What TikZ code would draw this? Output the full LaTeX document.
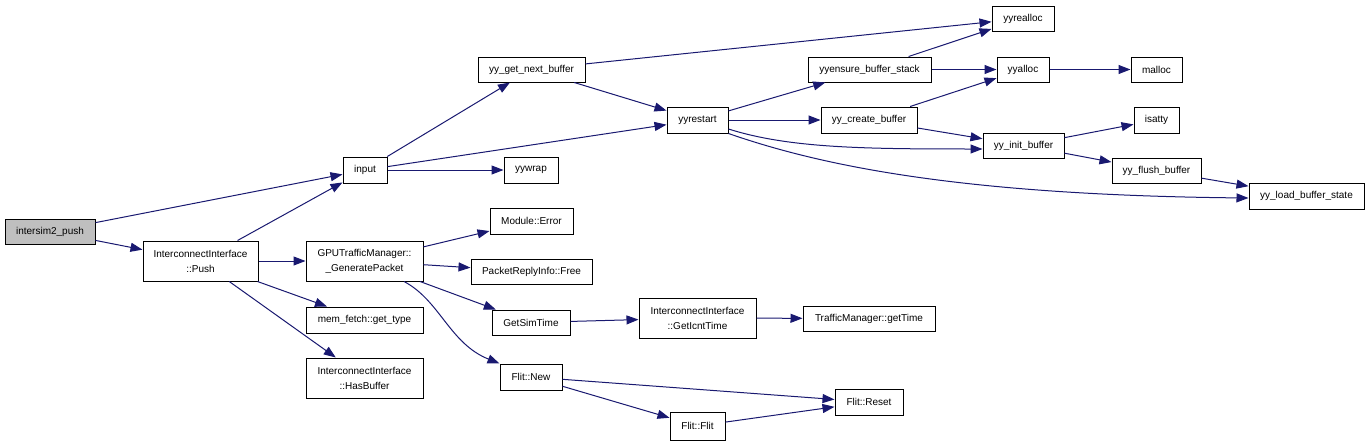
\documentclass[tikz,border=0pt]{standalone}
\usepackage{fontspec}
\setmainfont{Liberation Sans}
\usetikzlibrary{arrows.meta}
\definecolor{edgeblue}{HTML}{191970}
\definecolor{rootgray}{HTML}{BFBFBF}
\begin{document}
\begin{tikzpicture}[x=1pt,y=-1pt,
  fn/.style={draw=black,line width=1pt,fill=white,inner sep=0pt,minimum height=25pt,
    font=\fontsize{10}{15}\selectfont,align=center},
  fntwo/.style={fn,minimum height=40pt},
  call/.style={draw=edgeblue,line width=1pt,-{Triangle[length=12pt,width=9pt]}}]
\useasboundingbox (0,0) rectangle (1369,447);

% callers
\node[fn,fill=rootgray,minimum width=90pt] (root) at (50,231.5) {intersim2\_push};
\node[fntwo,minimum width=115pt] (push) at (200.5,261) {InterconnectInterface\\::Push};

% second column
\node[fn,minimum width=44pt,minimum height=26pt] (input) at (365,170) {input};
\node[fntwo,minimum width=117pt] (genpkt) at (364.5,261) {GPUTrafficManager::\\\_GeneratePacket};
\node[fn,minimum width=117pt,minimum height=26pt] (memtype) at (364.5,320) {mem\_fetch::get\_type};
\node[fntwo,minimum width=117pt] (hasbuf) at (364.5,378) {InterconnectInterface\\::HasBuffer};

% third column
\node[fn,minimum width=107pt] (nextbuf) at (531.5,69.5) {yy\_get\_next\_buffer};
\node[fn,minimum width=54pt,minimum height=26pt] (wrap) at (531,170) {yywrap};
\node[fn,minimum width=83pt,minimum height=26pt] (moderr) at (531.5,221) {Module::Error};
\node[fn,minimum width=121pt] (pktfree) at (531.5,271.5) {PacketReplyInfo::Free};
\node[fn,minimum width=78pt] (simtime) at (531,322.5) {GetSimTime};
\node[fn,minimum width=62pt,minimum height=26pt] (flitnew) at (531,377) {Flit::New};

% fourth column
\node[fn,minimum width=61pt,minimum height=26pt] (restart) at (697.5,120) {yyrestart};
\node[fntwo,minimum width=117pt] (icnttime) at (697.5,318) {InterconnectInterface\\::GetIcntTime};
\node[fn,minimum width=55pt,minimum height=28pt] (flitflit) at (697.5,426) {Flit::Flit};

% fifth column
\node[fn,minimum width=123pt] (ensure) at (869.5,69.5) {yyensure\_buffer\_stack};
\node[fn,minimum width=96pt,minimum height=26pt] (create) at (869,120) {yy\_create\_buffer};
\node[fn,minimum width=132pt] (gettime) at (869,318.5) {TrafficManager::getTime};
\node[fn,minimum width=68pt,minimum height=26pt] (flitreset) at (869,402) {Flit::Reset};

% sixth column
\node[fn,minimum width=62pt] (realloc) at (1023,18.5) {yyrealloc};
\node[fn,minimum width=52pt] (alloc) at (1023,69.5) {yyalloc};
\node[fn,minimum width=81pt] (initbuf) at (1023.5,145.5) {yy\_init\_buffer};

% last columns
\node[fn,minimum width=51pt] (malloc) at (1156.5,69.5) {malloc};
\node[fn,minimum width=45pt,minimum height=26pt] (isatty) at (1156.5,120) {isatty};
\node[fn,minimum width=89pt] (flushbuf) at (1156.5,170.5) {yy\_flush\_buffer};
\node[fn,minimum width=115pt,minimum height=26pt] (loadstate) at (1306.5,196) {yy\_load\_buffer\_state};

% calls
\draw[call] (root) -- (input);
\draw[call] (root) -- (push);
\draw[call] (push) -- (input);
\draw[call] (push) -- (genpkt);
\draw[call] (push) -- (memtype);
\draw[call] (push) -- (hasbuf);

\draw[call] (input) -- (nextbuf);
\draw[call] (input) -- (restart);
\draw[call] (input) -- (wrap);
\draw[call] (nextbuf) -- (realloc);
\draw[call] (nextbuf) -- (restart);

\draw[call] (restart) -- (ensure);
\draw[call] (restart) -- (create);
\draw[call] ([yshift=-9pt]restart.east) .. controls +(60,19) and +(-120,0) .. ([yshift=-3.5pt]initbuf.west);
\draw[call] (restart.south east) .. controls +(92,32) and +(-289,-3) .. ([yshift=-2pt]loadstate.west);

\draw[call] (ensure) -- (realloc);
\draw[call] (ensure) -- (alloc);
\draw[call] (create) -- (alloc);
\draw[call] (create) -- (initbuf);
\draw[call] (alloc) -- (malloc);
\draw[call] (initbuf) -- (isatty);
\draw[call] (initbuf) -- (flushbuf);
\draw[call] (flushbuf) -- (loadstate);

\draw[call] (genpkt) -- (moderr);
\draw[call] (genpkt) -- (pktfree);
\draw[call] (genpkt) -- (simtime);
\draw[call] ([xshift=39.5pt]genpkt.south) .. controls +(36,19) and +(-50,-20) .. (flitnew.north west);
\draw[call] (simtime) -- (icnttime);
\draw[call] (icnttime) -- (gettime);
\draw[call] (flitnew) -- (flitreset);
\draw[call] (flitnew) -- (flitflit);
\draw[call] (flitflit) -- (flitreset);
\end{tikzpicture}
\end{document}
